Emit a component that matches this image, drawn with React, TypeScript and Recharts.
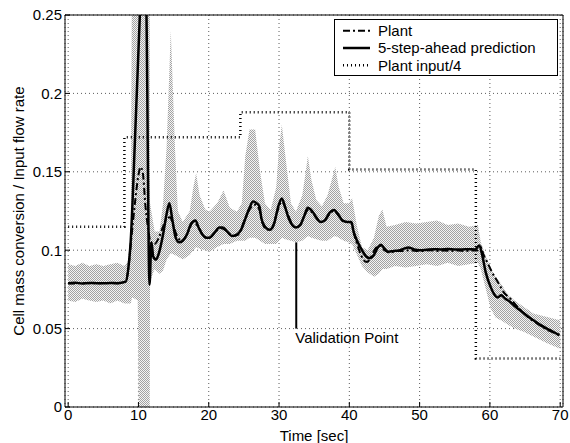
import React from "react";
import {
  Area,
  CartesianGrid,
  ComposedChart,
  Legend,
  Line,
  ReferenceLine,
  XAxis,
  YAxis,
} from "recharts";

const FONT = '"Liberation Sans", Arial, Helvetica, sans-serif';

// axis ticks
const xTicks = [0, 10, 20, 30, 40, 50, 60, 70];
const yTicks = [0, 0.05, 0.1, 0.15, 0.2, 0.25];

// plant output (dash-dot)
const plantTime = [
  0, 1, 2, 3, 4, 5, 6, 7, 8.2, 8.6, 9.0, 9.5, 10.0, 10.3, 10.6, 11.0, 11.4,
  11.8, 12.3, 12.9, 13.5, 14.0, 14.5, 15.0, 15.5, 16.2, 17.0, 17.8, 18.5, 19.3,
  20.1, 21.0, 21.8, 22.6, 23.4, 24.2, 25.0, 25.8, 26.5, 27.2, 27.6, 28.3, 29.0,
  29.7, 30.4, 31.0, 31.6, 32.3, 33.0, 33.7, 34.2, 34.9, 35.6, 36.3, 37.0, 37.8,
  38.5, 39.3, 40.2, 40.7, 41.4, 42.0, 42.5, 43.0, 43.7, 44.3, 45.0, 45.8, 46.6,
  47.5, 48.5, 49.5, 50.5, 51.5, 52.5, 53.5, 54.5, 55.5, 56.5, 57.5, 58.3, 58.7,
  59.1, 59.6, 60.3, 61.25, 62.0, 62.9, 63.7, 64.6, 65.5, 66.5, 67.5, 68.5,
  69.3, 70,
];
const plantValue = [
  0.079, 0.0788, 0.0791, 0.079, 0.0789, 0.0791, 0.079, 0.0789, 0.08, 0.09,
  0.108, 0.13, 0.148, 0.153, 0.15, 0.128, 0.113, 0.104, 0.104, 0.108, 0.115,
  0.12, 0.121, 0.115, 0.109, 0.106, 0.111, 0.118, 0.115, 0.109, 0.108, 0.112,
  0.114, 0.112, 0.109, 0.11, 0.118, 0.126, 0.129, 0.126, 0.118, 0.113, 0.114,
  0.124, 0.131, 0.126, 0.119, 0.1145, 0.116, 0.123, 0.126, 0.123, 0.119, 0.118,
  0.122, 0.125, 0.122, 0.118, 0.118, 0.11, 0.1, 0.094, 0.0925, 0.095, 0.101,
  0.103, 0.1, 0.0985, 0.0995, 0.0995, 0.1, 0.0995, 0.0995, 0.1, 0.0995,
  0.0998, 0.0995, 0.0998, 0.0995, 0.0998, 0.1, 0.102, 0.097, 0.0926, 0.086,
  0.0788, 0.073, 0.0692, 0.065, 0.0607, 0.057, 0.054, 0.051, 0.0485, 0.047,
  0.0455,
];

// 5-step-ahead prediction (solid)
const predTime = [
  0, 1, 2, 3, 4, 5, 6, 7, 8.2, 8.6, 8.9, 9.5, 10.2, 10.6, 10.9, 11.14, 11.57,
  11.85, 12.1, 12.5, 12.9, 13.5, 14.0, 14.4, 14.8, 15.3, 15.8, 16.3, 16.9,
  17.5, 18.1, 18.6, 19.1, 19.6, 20.1, 20.8, 21.5, 22.0, 22.6, 23.3, 24.0, 24.6,
  25.2, 25.8, 26.3, 26.8, 27.2, 27.5, 28.0, 28.7, 29.3, 29.9, 30.4, 30.9, 31.4,
  31.9, 32.4, 33.0, 33.6, 34.1, 34.7, 35.3, 35.9, 36.5, 37.2, 37.8, 38.4, 39.0,
  39.7, 40.3, 40.6, 41.2, 41.8, 42.4, 42.9, 43.5, 44.1, 44.5, 45.0, 45.6, 46.3,
  47.0, 47.8, 48.4, 49.2, 50.1, 51.0, 52.0, 53.0, 54.0, 55.0, 56.0, 57.0, 57.9,
  58.5, 58.9, 59.4, 60.1, 60.6, 61.1, 61.6, 62.2, 62.9, 63.6, 64.3, 65.2, 66.2,
  67.1, 68.1, 69.0, 69.9,
];
const predValue = [
  0.079, 0.0792, 0.0788, 0.0791, 0.079, 0.0789, 0.0791, 0.079, 0.08, 0.09,
  0.106, 0.17, 0.25, 0.3, 0.3, 0.25, 0.078, 0.105, 0.096, 0.094, 0.098, 0.11,
  0.123, 0.13, 0.12, 0.108, 0.105, 0.106, 0.11, 0.117, 0.119, 0.114, 0.11,
  0.108, 0.108, 0.111, 0.1145, 0.1145, 0.112, 0.109, 0.11, 0.113, 0.12, 0.127,
  0.131, 0.13, 0.128, 0.12, 0.115, 0.113, 0.117, 0.128, 0.133, 0.127, 0.12,
  0.116, 0.1145, 0.116, 0.122, 0.127, 0.125, 0.121, 0.118, 0.119, 0.124,
  0.1256, 0.123, 0.119, 0.118, 0.118, 0.112, 0.105, 0.1, 0.096, 0.095, 0.097,
  0.102, 0.1035, 0.101, 0.099, 0.0995, 0.0998, 0.101, 0.1018, 0.1005, 0.1,
  0.1003, 0.1006, 0.1005, 0.1007, 0.1005, 0.1005, 0.1006, 0.1005, 0.103, 0.097,
  0.086, 0.0766, 0.072, 0.0699, 0.0713, 0.069, 0.067, 0.064, 0.0617, 0.0585,
  0.0553, 0.0525, 0.05, 0.048, 0.0458,
];

// plant input / 4 (dotted, stepped)
const inputTime = [0, 8, 24.5, 40, 58, 70];
const inputValue = [0.115, 0.172, 0.188, 0.1515, 0.031, 0.031];

// shaded band around the prediction
const bandTime = [
  0, 1, 2, 3, 4, 5, 6, 7, 8, 8.5, 8.9, 9.1, 9.9, 10.05, 11.6, 11.65, 12.3, 13.0,
  13.5, 14.0, 14.6, 15.2, 15.6, 16.3, 17.3, 17.8, 18.2, 18.7, 19.5, 20.1, 21.2,
  22.1, 23.0, 24.0, 24.7, 25.2, 25.8, 26.6, 27.3, 28.0, 28.8, 29.6, 30.0, 30.4,
  30.9, 31.7, 32.4, 33.3, 33.8, 34.1, 34.6, 35.3, 36.1, 36.9, 37.5, 38.0, 38.5,
  39.2, 39.9, 40.4, 41.1, 41.8, 42.6, 43.5, 44.2, 44.7, 45.3, 46.5, 48.0, 49.5,
  51.0, 52.5, 54.0, 55.5, 57.0, 58.3, 58.7, 59.6, 60.1, 60.8, 61.7, 62.4, 63.5,
  64.8, 66.2, 68.0, 69.8, 70,
];
const bandLow = [
  0.068, 0.067, 0.069, 0.068, 0.067, 0.068, 0.066, 0.068, 0.066, 0.066, 0.066,
  0.07, 0.068, 0, 0, 0.08, 0.088, 0.085, 0.087, 0.094, 0.098, 0.097, 0.096,
  0.094, 0.097, 0.1, 0.102, 0.101, 0.1, 0.099, 0.102, 0.104, 0.104, 0.106,
  0.106, 0.106, 0.108, 0.108, 0.106, 0.104, 0.104, 0.104, 0.106, 0.108, 0.107,
  0.106, 0.105, 0.106, 0.108, 0.109, 0.108, 0.107, 0.106, 0.106, 0.108, 0.109,
  0.108, 0.106, 0.105, 0.104, 0.097, 0.09, 0.086, 0.083, 0.085, 0.088, 0.088,
  0.09, 0.089, 0.09, 0.091, 0.09, 0.092, 0.09, 0.091, 0.092, 0.088, 0.072,
  0.063, 0.057, 0.055, 0.053, 0.05, 0.048, 0.045, 0.041, 0.0375, 0.037,
];
const bandHigh = [
  0.091, 0.09, 0.092, 0.09, 0.091, 0.09, 0.091, 0.092, 0.09, 0.093, 0.11, 0.3,
  0.3, 0.3, 0.3, 0.13, 0.112, 0.112, 0.13, 0.165, 0.24, 0.165, 0.125, 0.118,
  0.125, 0.14, 0.149, 0.135, 0.126, 0.1245, 0.13, 0.138, 0.127, 0.1245, 0.13,
  0.16, 0.177, 0.177, 0.15, 0.13, 0.1256, 0.14, 0.165, 0.18, 0.16, 0.13,
  0.1245, 0.135, 0.15, 0.16, 0.145, 0.132, 0.128, 0.135, 0.145, 0.153, 0.14,
  0.13, 0.13, 0.133, 0.115, 0.102, 0.1, 0.108, 0.122, 0.126, 0.115, 0.116,
  0.118, 0.117, 0.118, 0.119, 0.116, 0.117, 0.115, 0.116, 0.105, 0.094, 0.089,
  0.083, 0.078, 0.0725, 0.068, 0.064, 0.0597, 0.0575, 0.0555, 0.055,
];

// validation marker
const validationTime = 32.45;
const validationTop = 0.105;
const validationBottom = 0.05;

const zip = (t: number[], v: number[]) => t.map((x, i) => ({ t: x, v: v[i] }));
const plantRows = zip(plantTime, plantValue);
const predRows = zip(predTime, predValue);
const inputRows = zip(inputTime, inputValue);
const bandRows = bandTime.map((x, i) => ({ t: x, lo: bandLow[i], hi: bandHigh[i] }));

const tickStyle = { fill: "#000", fontSize: 15, fontFamily: FONT };

const legendRows = [
  { label: "Plant", dash: "7 3 2 3", width: 2 },
  { label: "5-step-ahead prediction", dash: undefined, width: 2.5 },
  { label: "Plant input/4", dash: "1 3", width: 2.5 },
];

function LegendBox() {
  return (
    <div
      style={{
        width: 222,
        height: 55,
        border: "1px solid #000",
        background: "#fff",
      }}
    >
      <svg width={222} height={55} style={{ display: "block" }}>
        {legendRows.map((r, i) => {
          const y = 10.7 + i * 17.3;
          return (
            <g key={r.label}>
              <line
                x1={8}
                x2={35}
                y1={y}
                y2={y}
                stroke="#000"
                strokeWidth={r.width}
                strokeDasharray={r.dash}
              />
              <text
                x={43}
                y={y + 5.3}
                fontSize={15}
                fontFamily={FONT}
                fill="#000"
              >
                {r.label}
              </text>
            </g>
          );
        })}
      </svg>
    </div>
  );
}

export default function App() {
  return (
    <div style={{ position: "absolute", left: 0, top: 0 }}>
      <ComposedChart
        width={570}
        height={443}
        margin={{ top: 14, right: 6, bottom: 0, left: 0 }}
      >
        <defs>
          <pattern
            id="stipple"
            width={2}
            height={2}
            patternUnits="userSpaceOnUse"
          >
            <rect width={2} height={2} fill="#f4f4f4" />
            <rect width={1} height={1} fill="#a2a2a2" />
            <rect x={1} y={1} width={1} height={1} fill="#a2a2a2" />
          </pattern>
        </defs>
        <CartesianGrid
          stroke="#333"
          strokeDasharray="1 3"
          strokeWidth={0.8}
        />
        <XAxis
          type="number"
          dataKey="t"
          domain={[-0.45, 70.4]}
          ticks={xTicks}
          interval={0}
          allowDataOverflow
          height={36}
          tickSize={-5}
          tickMargin={7.5}
          axisLine={{ stroke: "#000" }}
          tickLine={{ stroke: "#000" }}
          tick={tickStyle}
          label={(p: any) => {
            const vb = p.viewBox || { x: 65, width: 498, y: 407 };
            return (
              <text
                x={vb.x + vb.width / 2}
                y={441}
                textAnchor="middle"
                fontSize={15}
                fontFamily={FONT}
                fill="#000"
              >
                Time [sec]
              </text>
            );
          }}
        />
        <XAxis
          xAxisId="top"
          orientation="top"
          type="number"
          dataKey="t"
          domain={[-0.45, 70.4]}
          ticks={xTicks}
          interval={0}
          allowDataOverflow
          height={1}
          tickSize={-5}
          tick={false}
          axisLine={{ stroke: "#000" }}
          tickLine={{ stroke: "#000" }}
        />
        <YAxis
          type="number"
          domain={[0, 0.25]}
          ticks={yTicks}
          interval={0}
          allowDataOverflow
          width={65}
          tickSize={-5}
          tickMargin={8}
          axisLine={{ stroke: "#000" }}
          tickLine={{ stroke: "#000" }}
          tick={tickStyle}
          label={(p: any) => {
            const vb = p.viewBox || { x: 0, y: 15, height: 392 };
            const cx = vb.x + 18;
            const cy = vb.y + vb.height / 2;
            return (
              <text
                x={cx}
                y={cy}
                transform={`rotate(-90 ${cx} ${cy})`}
                textAnchor="middle"
                dominantBaseline="central"
                fontSize={15}
                fontFamily={FONT}
                fill="#000"
              >
                Cell mass conversion / Input flow rate
              </text>
            );
          }}
        />
        <YAxis
          yAxisId="right"
          orientation="right"
          type="number"
          domain={[0, 0.25]}
          ticks={yTicks}
          interval={0}
          allowDataOverflow
          width={1}
          tickSize={-5}
          tick={false}
          axisLine={{ stroke: "#000" }}
          tickLine={{ stroke: "#000" }}
        />
        <Area
          data={bandRows}
          dataKey={(d: any) => [d.lo, d.hi]}
          type="linear"
          stroke="none"
          fill="url(#stipple)"
          fillOpacity={1}
          isAnimationActive={false}
          dot={false}
          activeDot={false}
        />
        <Line
          data={inputRows}
          dataKey="v"
          type="stepAfter"
          stroke="#000"
          strokeWidth={2.5}
          strokeDasharray="1 3"
          dot={false}
          activeDot={false}
          isAnimationActive={false}
        />
        <Line
          data={plantRows}
          dataKey="v"
          type="monotoneX"
          stroke="#000"
          strokeWidth={2}
          strokeDasharray="7 3 2 3"
          dot={false}
          activeDot={false}
          isAnimationActive={false}
        />
        <Line
          data={predRows}
          dataKey="v"
          type="monotoneX"
          stroke="#000"
          strokeWidth={2.5}
          dot={false}
          activeDot={false}
          isAnimationActive={false}
        />
        <ReferenceLine
          segment={[
            { x: validationTime, y: validationTop },
            { x: validationTime, y: validationBottom },
          ]}
          stroke="#000"
          strokeWidth={2}
          ifOverflow="visible"
          label={(p: any) => {
            const vb = p.viewBox || { x: 296, y: 242, height: 86 };
            return (
              <text
                x={vb.x - 1}
                y={vb.y + vb.height + 14.5}
                fontSize={15}
                fontFamily={FONT}
                fill="#000"
              >
                Validation Point
              </text>
            );
          }}
        />
        <Legend
          layout="vertical"
          align="center"
          verticalAlign="middle"
          content={() => <LegendBox />}
          wrapperStyle={{ left: 334, top: 19, width: 224, height: 57 }}
        />
      </ComposedChart>
    </div>
  );
}
